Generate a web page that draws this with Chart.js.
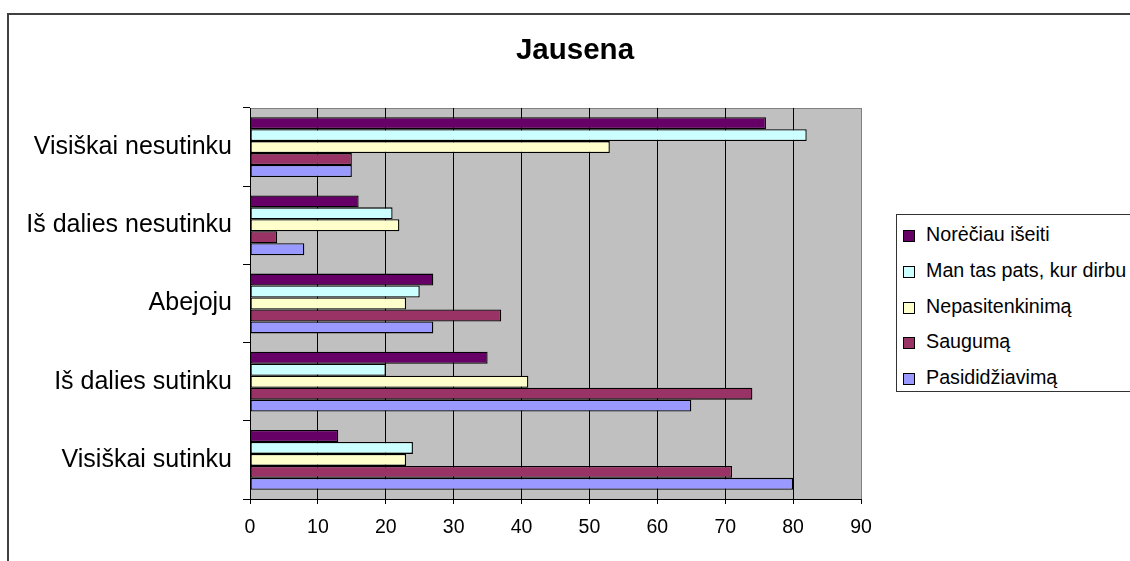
<!DOCTYPE html>
<html>
<head>
<meta charset="utf-8">
<script src="https://cdn.jsdelivr.net/npm/chart.js@4.4.1/dist/chart.umd.min.js"></script>
<style>
  html, body { margin: 0; padding: 0; background: #fff; overflow: hidden; }
  #wrap { position: relative; width: 1130px; height: 561px; }
  #frame { position: absolute; left: 7px; top: 13px; width: 1200px; height: 600px; border: 2px solid #404040; }
  #chart { position: absolute; left: 0; top: 0; }
  #legend { position: absolute; left: 896px; top: 214px; width: 300px; height: 176px;
            border: 1px solid #333; background: #fff; font-family: "Liberation Sans", Arial, sans-serif; font-size: 19.7px; color: #000; }
  #legend .item { position: absolute; left: 6px; height: 22px; line-height: 22px; white-space: nowrap; }
  #legend .box { display: inline-block; width: 10px; height: 10px; border: 1px solid #000; margin-right: 11px; vertical-align: -1px; }
</style>
</head>
<body>
<div id="wrap">
  <div id="frame"></div>
  <canvas id="chart" width="1130" height="561"></canvas>
  <div id="legend"></div>
</div>
<script>
// categories, top to bottom
const categories = ['Visiškai nesutinku', 'Iš dalies nesutinku', 'Abejoju', 'Iš dalies sutinku', 'Visiškai sutinku'];

// series (legend order)
const seriesNames = ['Norėčiau išeiti', 'Man tas pats, kur dirbu', 'Nepasitenkinimą', 'Saugumą', 'Pasididžiavimą'];
const noreciauIseiti = [76, 16, 27, 35, 13];
const manTasPats = [82, 21, 25, 20, 24];
const nepasitenkinima = [53, 22, 23, 41, 23];
const saugumas = [15, 4, 37, 74, 71];
const pasididziavima = [15, 8, 27, 65, 80];

const xTicks = [0, 10, 20, 30, 40, 50, 60, 70, 80, 90];

const seriesValues = [noreciauIseiti, manTasPats, nepasitenkinima, saugumas, pasididziavima];
const seriesColors = ['#660066', '#ccffff', '#ffffcc', '#993366', '#9999ff'];

const FONT = '"Liberation Sans", Arial, sans-serif';

// gray plot area with a thin gray frame
const plotBackground = {
  id: 'plotBackground',
  beforeDraw(chart) {
    const { ctx, chartArea: a } = chart;
    ctx.save();
    ctx.fillStyle = '#c0c0c0';
    ctx.fillRect(a.left, a.top, a.right - a.left, a.bottom - a.top);
    ctx.strokeStyle = '#808080';
    ctx.lineWidth = 1;
    ctx.strokeRect(a.left + 0.5, a.top + 0.5, a.right - a.left, a.bottom - a.top);
    ctx.restore();
  }
};

const chart = new Chart(document.getElementById('chart').getContext('2d'), {
  type: 'bar',
  data: {
    labels: categories,
    datasets: seriesNames.map((name, i) => ({
      label: name,
      data: seriesValues[i],
      backgroundColor: seriesColors[i],
      borderColor: '#000',
      borderWidth: 1.3,
      borderSkipped: false,
      yAxisID: 'y',
      categoryPercentage: 0.765,
      barPercentage: 1.0
    }))
  },
  options: {
    indexAxis: 'y',
    responsive: false,
    animation: false,
    layout: { padding: { left: 20, right: 0, top: 0, bottom: 0 } },
    plugins: {
      legend: { display: false },
      tooltip: { enabled: false },
      title: {
        display: true,
        text: 'Jausena',
        color: '#000',
        font: { family: FONT, size: 29.5, weight: 'bold' },
        padding: { top: 33, bottom: 39.6 }
      }
    },
    scales: {
      x: {
        min: 0,
        max: 90,
        afterBuildTicks(scale) { scale.ticks = xTicks.map(v => ({ value: v })); },
        afterFit(scale) { scale.height = 62; },
        grid: {
          color: ctx => (ctx.tick && ctx.tick.value === 90 ? '#808080' : '#000'),
          tickColor: '#000',
          tickLength: 5,
          lineWidth: 1
        },
        border: { color: '#000' },
        ticks: { color: '#000', font: { family: FONT, size: 19.5 }, padding: 12, maxRotation: 0 }
      },
      y: {
        afterFit(scale) { scale.width = 230; },
        grid: { drawOnChartArea: false, drawTicks: true, tickLength: 7, tickColor: '#000', offset: true },
        border: { color: '#000' },
        ticks: { color: '#000', font: { family: FONT, size: 25 }, padding: 11, autoSkip: false }
      },
      // empty scale that keeps room on the right for the legend
      yR: {
        type: 'category',
        position: 'right',
        afterFit(scale) { scale.width = 269; },
        grid: { display: false },
        border: { display: false },
        ticks: { display: false }
      }
    }
  },
  plugins: [plotBackground]
});

// legend box
const legend = document.getElementById('legend');
seriesNames.forEach((name, i) => {
  const item = document.createElement('div');
  item.className = 'item';
  item.style.top = (8 + i * 35.8) + 'px';
  const box = document.createElement('span');
  box.className = 'box';
  box.style.background = seriesColors[i];
  item.appendChild(box);
  item.appendChild(document.createTextNode(name));
  legend.appendChild(item);
});
</script>
</body>
</html>
